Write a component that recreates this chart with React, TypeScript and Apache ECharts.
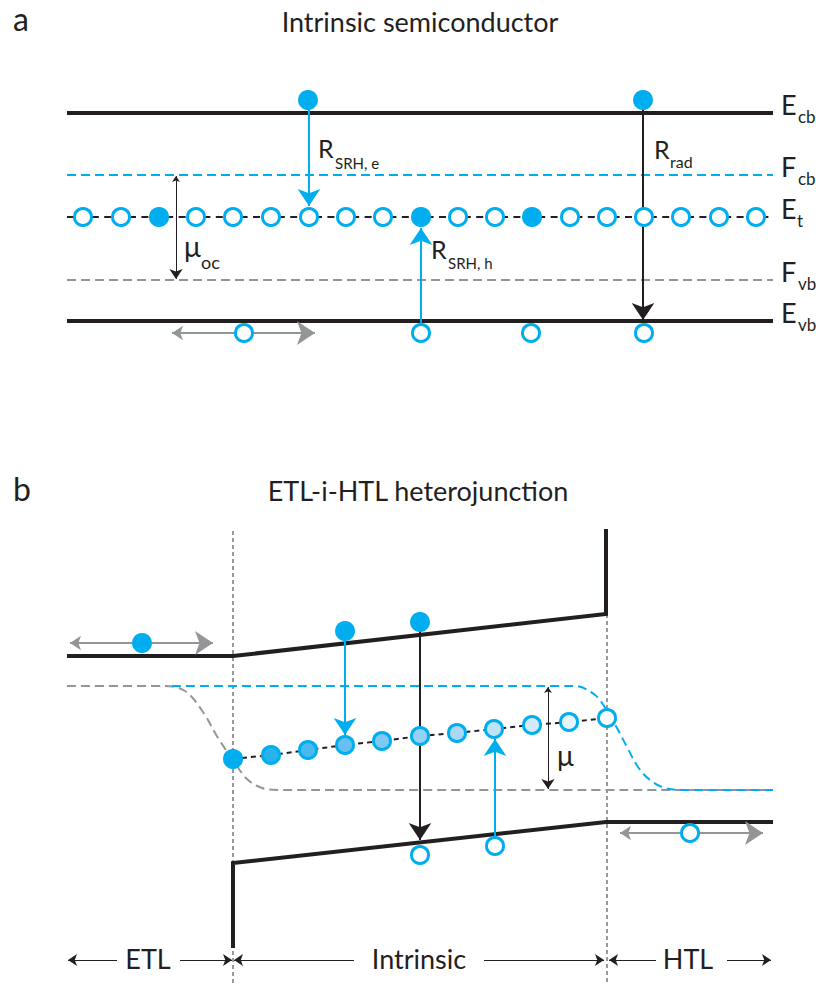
import React, { useEffect, useRef } from "react";
import * as echarts from "echarts";

const CYAN = "#00aeef";
const INK = "#231f20";
const GREY = "#939598";
const DOT = "#77787b";
const FONT = "Lato";

// ---------- Panel a : intrinsic semiconductor ----------
const bandAX = [67, 773];
const levelNamesA = ["E", "F", "E", "F", "E"];
const levelSubsA = ["cb", "cb", "t", "vb", "vb"];
const levelYA = [113, 175, 217, 280, 321];
const trapAX = [83, 121, 159, 196, 233, 271, 309, 346, 383, 421, 458, 495, 532, 570, 607, 644, 681, 719, 756];
const trapAOccupied = [0, 0, 1, 0, 0, 0, 0, 0, 0, 1, 0, 0, 1, 0, 0, 0, 0, 0, 0];
const electronsA = [[308, 100], [643, 100]];
const holesA = [[244, 333], [421, 333], [531, 333], [644, 333]];
// arrows: start point, end point
const cyanArrowsA = [[309, 104], [309, 206], [421, 333], [421, 228]];
const radArrowA = [[643, 104], [643, 320]];
const muArrowA = [[176, 176], [176, 279]];
const driftArrowA = [[172, 333], [315, 333]];

// ---------- Panel b : ETL-i-HTL heterojunction ----------
const cbB = [[67, 656], [233, 656], [606, 614], [606, 529]];
const vbB = [[233, 948], [233, 863], [606, 822], [773, 822]];
const fvbB = [[67, 686], [165, 686], [185, 691], [203, 712], [218, 738], [233, 760], [247, 779], [262, 788], [280, 790], [773, 790]];
const fcbB = [[172, 686], [575, 686], [595, 695], [606, 709], [617, 728], [627, 747], [638, 767], [650, 780], [665, 788], [685, 790], [773, 790]];
const trapBX = [233, 271, 308, 345, 382, 420, 457, 494, 532, 569, 607];
const trapBY = [759, 755, 750, 745, 741, 736, 733, 729, 725, 722, 718];
const trapBFill = ["#00aeef", "#29b3ee", "#4ab9ed", "#66c1f0", "#7fc9f2", "#95d1f3", "#abd9f5", "#bfe2f7", "#d3ebf9", "#e6f4fc", "#ffffff"];
const electronsB = [[142, 643], [345, 631], [420, 622]];
const holesB = [[420, 855], [495, 846], [690, 833]];
const interfaceX = [233, 607];
const interfaceTop = [531, 614];
const cyanArrowsB = [[345, 634], [345, 735], [495, 846], [495, 739]];
const radArrowB = [[420, 625], [420, 840]];
const muArrowB = [[548, 687], [548, 789]];
const driftArrowsB = [[70, 643], [213, 643], [620, 833], [763, 833]];
const regionArrows = [[117, 960, 68, 960], [180, 960, 232, 960], [354, 960, 234, 960], [484, 960, 604, 960], [656, 960, 609, 960], [727, 960, 771, 960]];
const regionNames = ["ETL", "Intrinsic", "HTL"];
const regionCenters = [148, 419, 688];

function pairs(a: number[][]) {
  const out: any[] = [];
  for (let i = 0; i < a.length; i += 2) out.push({ coords: [a[i], a[i + 1]] });
  return out;
}

// x, baseline, text, size
function txt(x: number, base: number, text: string, size: number, align = "left", color = INK) {
  return {
    type: "text",
    x,
    y: base - 0.86 * size,
    silent: true,
    style: {
      text,
      fill: color,
      fontSize: size,
      fontFamily: FONT,
      textAlign: align,
      align,
      textVerticalAlign: "top",
      verticalAlign: "top",
    },
  };
}

function lineSeries(data: number[][], color: string, width: number, type: any, z: number, smooth: any = false) {
  return {
    type: "line",
    data,
    symbol: "none",
    smooth,
    silent: true,
    z,
    lineStyle: { color, width, type, cap: "butt", join: "miter" },
  };
}

function arrowSeries(data: any[], color: string, width: number, both: boolean, size: number[], z = 4) {
  return {
    type: "lines",
    coordinateSystem: "cartesian2d",
    silent: true,
    z,
    data,
    symbol: both ? ["arrow", "arrow"] : ["none", "arrow"],
    symbolSize: size,
    lineStyle: { color, width, opacity: 1, curveness: 0 },
  };
}

export default function App() {
  const ref = useRef<HTMLDivElement>(null);
  useEffect(() => {
    if (!ref.current) return;
    const chart = echarts.init(ref.current, undefined, { renderer: "svg" });

    const series: any[] = [];
    // Panel a levels
    series.push(lineSeries([[bandAX[0], levelYA[0]], [bandAX[1], levelYA[0]]], INK, 4, "solid", 2));
    series.push(lineSeries([[bandAX[0], levelYA[1]], [bandAX[1], levelYA[1]]], CYAN, 2, [9, 5], 2));
    series.push(lineSeries([[bandAX[0], levelYA[2]], [bandAX[1], levelYA[2]]], INK, 2, [7, 5.4], 2));
    series.push(lineSeries([[bandAX[0], levelYA[3]], [bandAX[1], levelYA[3]]], GREY, 2, [9, 5], 2));
    series.push(lineSeries([[bandAX[0], levelYA[4]], [bandAX[1], levelYA[4]]], INK, 4, "solid", 2));

    // Panel b bands
    series.push(lineSeries(cbB, INK, 4, "solid", 2));
    series.push(lineSeries(vbB, INK, 4, "solid", 2));
    series.push(lineSeries(fvbB, GREY, 2, [9, 5], 2, 0.35));
    series.push(lineSeries(fcbB, CYAN, 2, [9, 5], 2, 0.35));
    series.push(lineSeries(trapBX.map((x, i) => [x, trapBY[i]]), INK, 2, [5, 4], 2));
    interfaceX.forEach((x, i) => series.push(lineSeries([[x, interfaceTop[i]], [x, 984]], DOT, 1.5, [4, 3], 1)));

    // arrows
    series.push(arrowSeries(pairs(cyanArrowsA).concat(pairs(cyanArrowsB)), CYAN, 2, false, [10, 17]));
    series.push(arrowSeries(pairs(radArrowA).concat(pairs(radArrowB)), INK, 2, false, [10, 17]));
    series.push(arrowSeries(pairs(muArrowA).concat(pairs(muArrowB)), INK, 1, true, [6, 10]));
    series.push(arrowSeries(pairs(driftArrowA).concat(pairs(driftArrowsB)), GREY, 2, true, [11, 18]));
    series.push(
      arrowSeries(regionArrows.map((a) => ({ coords: [[a[0], a[1]], [a[2], a[3]]] })), INK, 1, false, [6, 9])
    );

    // trap states
    series.push({
      type: "scatter",
      silent: true,
      z: 6,
      symbol: "circle",
      symbolSize: 17,
      data: trapAX.map((x, i) => ({
        value: [x, levelYA[2]],
        itemStyle: { color: trapAOccupied[i] ? CYAN : "#ffffff" },
      })),
      itemStyle: { borderColor: CYAN, borderWidth: 3, opacity: 1 },
    });
    series.push({
      type: "scatter",
      silent: true,
      z: 6,
      symbol: "circle",
      symbolSize: 17,
      data: trapBX.map((x, i) => ({ value: [x, trapBY[i]], itemStyle: { color: trapBFill[i] } })),
      itemStyle: { borderColor: CYAN, borderWidth: 3, opacity: 1 },
    });
    // holes
    series.push({
      type: "scatter",
      silent: true,
      z: 6,
      symbol: "circle",
      symbolSize: 17,
      data: holesA.concat(holesB),
      itemStyle: { color: "#ffffff", borderColor: CYAN, borderWidth: 3, opacity: 1 },
    });
    // electrons
    series.push({
      type: "scatter",
      silent: true,
      z: 6,
      symbol: "circle",
      symbolSize: 20,
      data: electronsA.concat(electronsB),
      itemStyle: { color: CYAN, opacity: 1 },
    });

    const g: any[] = [];
    // panel a texts
    g.push(txt(13, 30, "a", 32));
    g.push(txt(420, 31, "Intrinsic semiconductor", 27, "center"));
    levelYA.forEach((y, i) => {
      g.push(txt(781, y + 1, levelNamesA[i], 27));
      g.push(txt(i === 2 ? 797 : 798, y + 10, levelSubsA[i], 17));
    });
    g.push(txt(318, 157, "R", 25));
    g.push(txt(335, 168, "SRH, e", 15));
    g.push(txt(431, 258, "R", 25));
    g.push(txt(448, 268, "SRH, h", 15));
    g.push(txt(654, 158, "R", 25));
    g.push(txt(670, 167, "rad", 16));
    g.push(txt(184, 256, "μ", 28));
    g.push(txt(201, 268, "oc", 18));
    // panel b texts
    g.push(txt(13, 500, "b", 32));
    g.push(txt(418, 500, "ETL-i-HTL heterojunction", 27, "center"));
    g.push(txt(557, 765, "μ", 28));
    regionNames.forEach((n, i) => g.push(txt(regionCenters[i], 968, n, 27, "center")));

    chart.setOption({
      animation: false,
      backgroundColor: "#ffffff",
      grid: { left: 0, right: 0, top: 0, bottom: 0, containLabel: false },
      xAxis: { type: "value", min: 0, max: 816, show: false },
      yAxis: { type: "value", min: 0, max: 984, inverse: true, show: false },
      series,
      graphic: g,
    });
    return () => chart.dispose();
  }, []);
  return (
    <div
      ref={ref}
      style={{ position: "absolute", left: 0, top: 0, width: 816, height: 984, background: "#fff" }}
    />
  );
}
